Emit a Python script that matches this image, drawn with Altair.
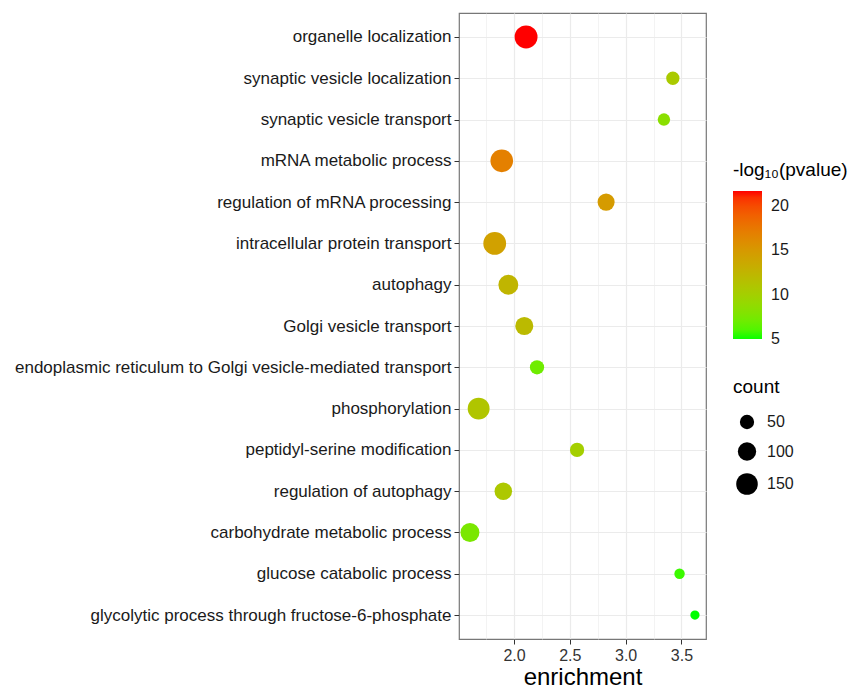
import altair as alt
import pandas as pd

terms = [
    "organelle localization",
    "synaptic vesicle localization",
    "synaptic vesicle transport",
    "mRNA metabolic process",
    "regulation of mRNA processing",
    "intracellular protein transport",
    "autophagy",
    "Golgi vesicle transport",
    "endoplasmic reticulum to Golgi vesicle-mediated transport",
    "phosphorylation",
    "peptidyl-serine modification",
    "regulation of autophagy",
    "carbohydrate metabolic process",
    "glucose catabolic process",
    "glycolytic process through fructose-6-phosphate",
]
enrichment = [2.108, 3.423, 3.343, 1.890, 2.825, 1.827, 1.949, 2.092, 2.206,
              1.683, 2.565, 1.904, 1.605, 3.483, 3.621]
counts = [172, 40, 31, 168, 84, 170, 124, 97, 50, 155, 50, 90, 110, 14, 5]
neglog10p = [21.75, 10.5, 8.3, 16.9, 14.8, 14.3, 12.5, 12.0, 7.0, 11.0, 10.0,
             10.7, 7.5, 5.5, 4.95]

x_ticks = [1.75, 2.0, 2.25, 2.5, 2.75, 3.0, 3.25, 3.5]
size_legend_values = [50, 100, 150]
color_legend_values = [5, 10, 15, 20]

df = pd.DataFrame({
    "term": terms,
    "enrichment": enrichment,
    "count": counts,
    "p": neglog10p,
})

FONT = "Liberation Sans"
minor_test = "datum.value % 0.5 !== 0"

chart = alt.Chart(df).mark_circle(opacity=1).encode(
    x=alt.X(
        "enrichment:Q",
        scale=alt.Scale(domain=[1.507, 3.72], nice=False, zero=False),
        axis=alt.Axis(
            title="enrichment",
            values=x_ticks,
            labelExpr="datum.value % 0.5 === 0 ? format(datum.value, '.1f') : ''",
            format=".1f",
            domain=False,
            grid=True,
            gridColor="#EBEBEB",
            gridWidth={"condition": {"test": minor_test, "value": 0.6}, "value": 1.2},
            tickColor={"condition": {"test": minor_test, "value": "transparent"}, "value": "#333333"},
            tickSize=5,
            labelFontSize=16,
            labelColor="#333333",
            labelPadding=3,
            labelFont=FONT,
            titleFont=FONT,
            titleFontSize=24,
            titleFontWeight="normal",
            titleColor="#000000",
            titlePadding=2,
            labelOverlap=False,
        ),
    ),
    y=alt.Y(
        "term:N",
        sort=terms,
        scale=alt.Scale(type="point", padding=0.58),
        axis=alt.Axis(
            title=None,
            domain=False,
            grid=True,
            gridColor="#EBEBEB",
            gridWidth=1.2,
            tickColor="#333333",
            tickSize=5,
            labelFontSize=17,
            labelColor="#1A1A1A",
            labelFont=FONT,
            labelPadding=3,
            labelLimit=600,
        ),
    ),
    color=alt.Color(
        "p:Q",
        scale=alt.Scale(
            domain=[min(neglog10p), max(neglog10p)],
            range=["#00FF00", "#FF0000"],
            interpolate="lab",
            nice=False,
            zero=False,
        ),
        legend=alt.Legend(
            title="-log₁₀(pvalue)",
            orient="none",
            legendX=274,
            legendY=148,
            direction="vertical",
            gradientLength=148,
            gradientThickness=29,
            gradientStrokeWidth=0,
            values=color_legend_values,
            labelOverlap=False,
            labelFontSize=16,
            labelFont=FONT,
            labelColor="#1A1A1A",
            labelOffset=9,
            titleFontSize=19,
            titleFont=FONT,
            titleFontWeight="normal",
            titleColor="#000000",
            titlePadding=11,
            titleLimit=300,
            padding=0,
        ),
    ),
    size=alt.Size(
        "count:Q",
        scale=alt.Scale(domain=[0, 200], range=[72, 597], zero=False, nice=False),
        legend=alt.Legend(
            title="count",
            orient="none",
            legendX=274,
            legendY=365,
            values=size_legend_values,
            symbolFillColor="#000000",
            symbolStrokeWidth=0,
            symbolOpacity=1,
            symbolType="circle",
            symbolOffset=3,
            labelFontSize=16,
            labelFont=FONT,
            labelColor="#1A1A1A",
            labelOffset=9,
            titleFontSize=19,
            titleFont=FONT,
            titleFontWeight="normal",
            titleColor="#000000",
            titlePadding=17,
            rowPadding=12,
            padding=0,
        ),
    ),
).properties(
    width=247,
    height=626,
    autosize=alt.AutoSizeParams(type="none"),
    padding={"left": 459, "top": 13, "right": 161, "bottom": 49},
    background="white",
).configure_view(
    stroke="#777777",
    strokeWidth=1.2,
    fill="white",
)

chart.save("out.html", embed_options={"renderer": "svg", "actions": False})
